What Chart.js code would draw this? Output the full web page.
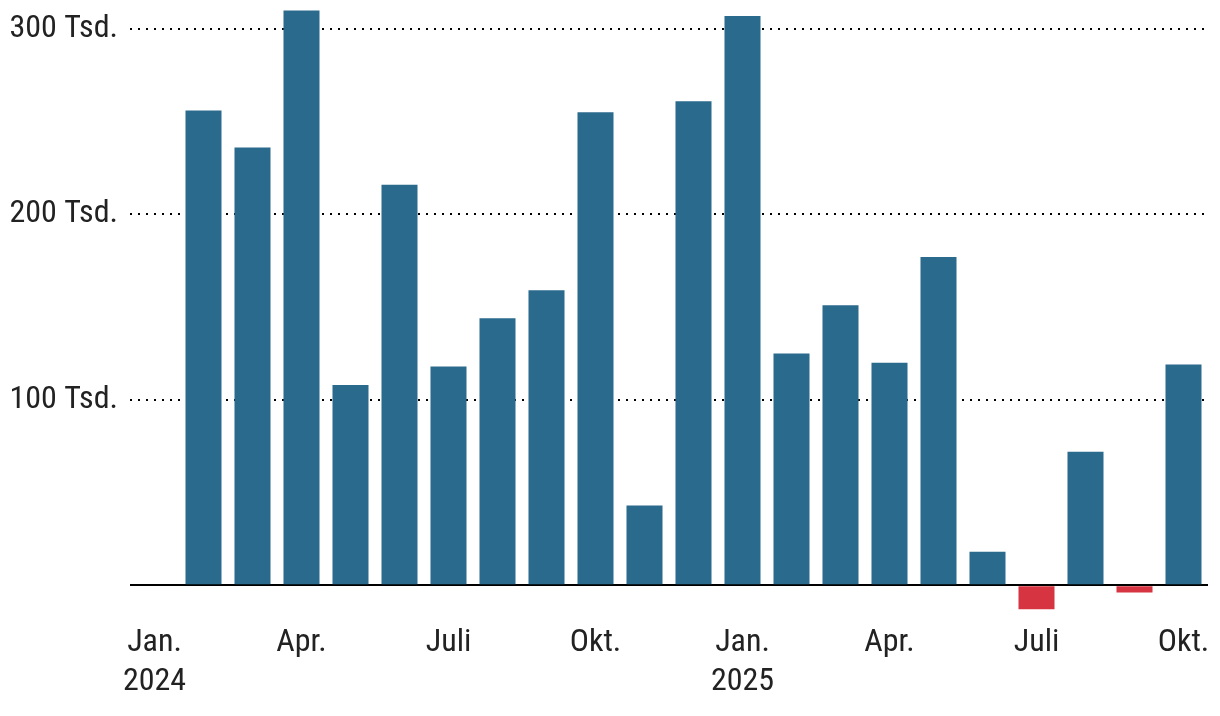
<!DOCTYPE html>
<html>
<head>
<meta charset="utf-8">
<script src="https://cdn.jsdelivr.net/npm/chart.js@4"></script>
<style>
  html, body { margin: 0; padding: 0; background: #fff; }
  #wrap { width: 1220px; height: 716px; }
</style>
</head>
<body>
<div id="wrap"><canvas id="chart"></canvas></div>
<script>
// monthly change, in thousands (Jan 2024 .. Oct 2025)
var months = ['Jan.', 'Feb.', 'März', 'Apr.', 'Mai', 'Juni', 'Juli', 'Aug.', 'Sep.', 'Okt.', 'Nov.', 'Dez.',
  'Jan.', 'Feb.', 'März', 'Apr.', 'Mai', 'Juni', 'Juli', 'Aug.', 'Sep.', 'Okt.'];
var years = ['2024', '', '', '', '', '', '', '', '', '', '', '',
  '2025', '', '', '', '', '', '', '', '', ''];
var values = [null, 256, 236, 310, 108, 216, 118, 144, 159, 255, 43, 261,
  307, 125, 151, 120, 177, 18, -13, 72, -4, 119];
var shownTicks = ['Jan.', 'Apr.', 'Juli', 'Okt.'];
var yTicks = [0, 100, 200, 300];

var FONT = "'Roboto Condensed', 'Liberation Sans Narrow', 'DejaVu Sans Condensed', Roboto, sans-serif";
var textColor = '#222222';

var config = {
  type: 'bar',
  data: {
    labels: months,
    datasets: [{
      label: 'Veränderung',
      data: values,
      backgroundColor: values.map(function (v) { return v < 0 ? '#d63441' : '#2a6a8c'; }),
      categoryPercentage: 1,
      barPercentage: 0.735
    }]
  },
  options: {
    responsive: true,
    maintainAspectRatio: false,
    animation: false,
    layout: { padding: { top: 0, right: 12, left: 0, bottom: 0 } },
    plugins: {
      legend: { display: false },
      tooltip: { enabled: false }
    },
    scales: {
      x: {
        grid: { display: false },
        border: { display: false },
        ticks: {
          autoSkip: false,
          maxRotation: 0,
          color: textColor,
          padding: 3,
          font: { family: FONT, size: 32, lineHeight: 1.2 },
          callback: function (val, i) {
            if (shownTicks.indexOf(months[i]) < 0) return '';
            return years[i] ? [months[i], years[i]] : months[i];
          }
        },
        afterFit: function (scale) { scale.height = 103; }
      },
      y: {
        min: -15,
        max: 315.6,
        afterBuildTicks: function (scale) {
          scale.ticks = yTicks.map(function (v) { return { value: v }; });
        },
        grid: {
          drawTicks: false,
          color: '#000000',
          lineWidth: 2
        },
        border: {
          display: false,
          dash: function (ctx) { return ctx.tick && ctx.tick.value === 0 ? [] : [2, 6]; }
        },
        ticks: {
          padding: 12,
          color: textColor,
          font: { family: FONT, size: 32 },
          callback: function (v) { return v > 0 ? v + ' Tsd.' : ''; }
        },
        afterFit: function (scale) {
          scale.width = 130;
          scale.paddingTop = 0;
          scale.paddingBottom = 0;
        }
      }
    }
  }
};

new Chart(document.getElementById('chart'), config);
</script>
</body>
</html>
